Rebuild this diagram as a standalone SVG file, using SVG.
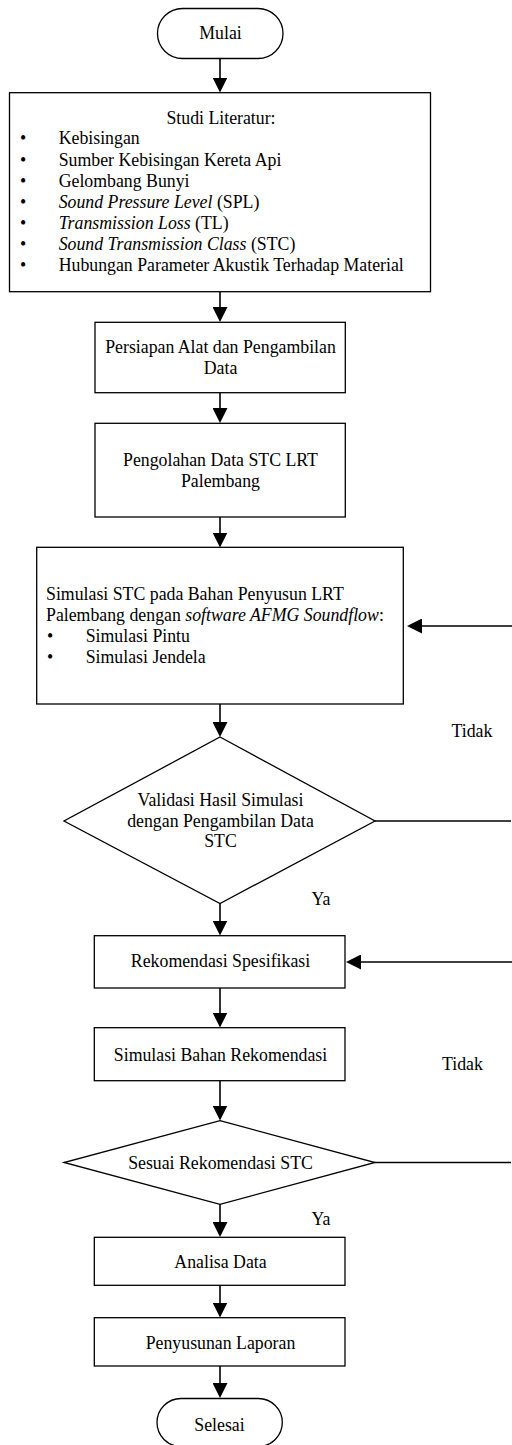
<svg xmlns="http://www.w3.org/2000/svg" width="512" height="1445" viewBox="0 0 512 1445">
<defs>
<style>
.n{fill:#fff;stroke:#000;stroke-width:1.3}
.t{font-family:"Liberation Serif","Times New Roman",serif;font-size:17.8px;fill:#000}
.c{text-anchor:middle}
.i{font-style:italic}
.e{fill:none;stroke:#000;stroke-width:1.6}
</style>
<marker id="ah" viewBox="0 0 15 15" refX="13" refY="7.5" markerWidth="15" markerHeight="15" orient="auto" markerUnits="userSpaceOnUse">
<path d="M0,0 L15,7.5 L0,15 z" fill="#000"/>
</marker>
</defs>
<rect width="512" height="1445" fill="#fff"/>
<g id="connectors">
<line class="e" x1="220" y1="58" x2="220" y2="90.5" marker-end="url(#ah)"/>
<line class="e" x1="220" y1="292" x2="220" y2="320" marker-end="url(#ah)"/>
<line class="e" x1="220" y1="393" x2="220" y2="421" marker-end="url(#ah)"/>
<line class="e" x1="220" y1="517" x2="220" y2="545.5" marker-end="url(#ah)"/>
<line class="e" x1="220" y1="704" x2="220" y2="735" marker-end="url(#ah)"/>
<line class="e" x1="220" y1="903" x2="220" y2="933.5" marker-end="url(#ah)"/>
<line class="e" x1="220" y1="988" x2="220" y2="1025.5" marker-end="url(#ah)"/>
<line class="e" x1="220" y1="1081" x2="220" y2="1118.5" marker-end="url(#ah)"/>
<line class="e" x1="220" y1="1204" x2="220" y2="1235" marker-end="url(#ah)"/>
<line class="e" x1="220" y1="1285" x2="220" y2="1315.5" marker-end="url(#ah)"/>
<line class="e" x1="220" y1="1366" x2="220" y2="1396" marker-end="url(#ah)"/>
<line class="e" x1="512" y1="626" x2="409" y2="626" marker-end="url(#ah)"/>
<line class="e" x1="375" y1="821" x2="511" y2="821"/>
<line class="e" x1="512" y1="962" x2="348" y2="962" marker-end="url(#ah)"/>
<line class="e" x1="375" y1="1162.5" x2="511" y2="1162.5"/>
<text class="t" x="451.5" y="737.3">Tidak</text>
<text class="t" x="311.5" y="905">Ya</text>
<text class="t" x="442" y="1070">Tidak</text>
<text class="t" x="311.5" y="1225">Ya</text>
</g>
<g id="mulai">
<rect class="n" x="157.5" y="8.5" width="125.5" height="50" rx="25" ry="25"/>
<text class="t c" x="220.5" y="39">Mulai</text>
</g>
<g id="studi-literatur">
<rect class="n" x="9.5" y="92.7" width="421" height="199"/>
<text class="t c" x="221" y="124">Studi Literatur:</text>
<text class="t" x="20" y="144.3">•</text><text class="t" x="58.7" y="144.3">Kebisingan</text>
<text class="t" x="20" y="165.5">•</text><text class="t" x="58.7" y="165.5">Sumber Kebisingan Kereta Api</text>
<text class="t" x="20" y="186.6">•</text><text class="t" x="58.7" y="186.6">Gelombang Bunyi</text>
<text class="t" x="20" y="207.6">•</text><text class="t" x="58.7" y="207.6"><tspan class="i">Sound Pressure Level</tspan> (SPL)</text>
<text class="t" x="20" y="228.7">•</text><text class="t" x="58.7" y="228.7"><tspan class="i">Transmission Loss</tspan> (TL)</text>
<text class="t" x="20" y="249.7">•</text><text class="t" x="58.7" y="249.7"><tspan class="i">Sound Transmission Class</tspan> (STC)</text>
<text class="t" x="20" y="270.7">•</text><text class="t" x="58.7" y="270.7">Hubungan Parameter Akustik Terhadap Material</text>
</g>
<g id="persiapan">
<rect class="n" x="95" y="322.3" width="250.3" height="70.4"/>
<text class="t c" x="220.5" y="353.3">Persiapan Alat dan Pengambilan</text>
<text class="t c" x="220.5" y="373.5">Data</text>
</g>
<g id="pengolahan">
<rect class="n" x="95" y="423.3" width="250.3" height="93.7"/>
<text class="t c" x="220.5" y="465.7">Pengolahan Data STC LRT</text>
<text class="t c" x="220.5" y="486.7">Palembang</text>
</g>
<g id="simulasi-stc">
<rect class="n" x="36.7" y="547.3" width="366.6" height="156.7"/>
<text class="t" x="46" y="600">Simulasi STC pada Bahan Penyusun LRT</text>
<text class="t" x="46" y="621">Palembang dengan <tspan class="i">software AFMG Soundflow</tspan>:</text>
<text class="t" x="47" y="642.3">•</text><text class="t" x="85.7" y="642.3">Simulasi Pintu</text>
<text class="t" x="47" y="663.3">•</text><text class="t" x="85.7" y="663.3">Simulasi Jendela</text>
</g>
<g id="validasi">
<polygon class="n" points="220,737 375,821 220,903.5 64,821"/>
<text class="t c" x="220.5" y="805.7">Validasi Hasil Simulasi</text>
<text class="t c" x="220.5" y="826.7">dengan Pengambilan Data</text>
<text class="t c" x="220.5" y="847.3">STC</text>
</g>
<g id="rekomendasi">
<rect class="n" x="94.3" y="935.7" width="250.7" height="52.3"/>
<text class="t c" x="220.5" y="967.3">Rekomendasi Spesifikasi</text>
</g>
<g id="simulasi-bahan">
<rect class="n" x="94.3" y="1027.7" width="250.7" height="53"/>
<text class="t c" x="220.5" y="1060.7">Simulasi Bahan Rekomendasi</text>
</g>
<g id="sesuai">
<polygon class="n" points="220,1120.7 375,1162.5 220,1204.3 64,1162.5"/>
<text class="t c" x="220.5" y="1169">Sesuai Rekomendasi STC</text>
</g>
<g id="analisa">
<rect class="n" x="94.3" y="1237.3" width="250.7" height="48"/>
<text class="t c" x="220.5" y="1267.7">Analisa Data</text>
</g>
<g id="penyusunan">
<rect class="n" x="94.3" y="1317.7" width="250.7" height="48.3"/>
<text class="t c" x="220.5" y="1349.3">Penyusunan Laporan</text>
</g>
<g id="selesai">
<rect class="n" x="157" y="1398.5" width="125.3" height="48" rx="24" ry="24"/>
<text class="t c" x="219.5" y="1431">Selesai</text>
</g>
</svg>
